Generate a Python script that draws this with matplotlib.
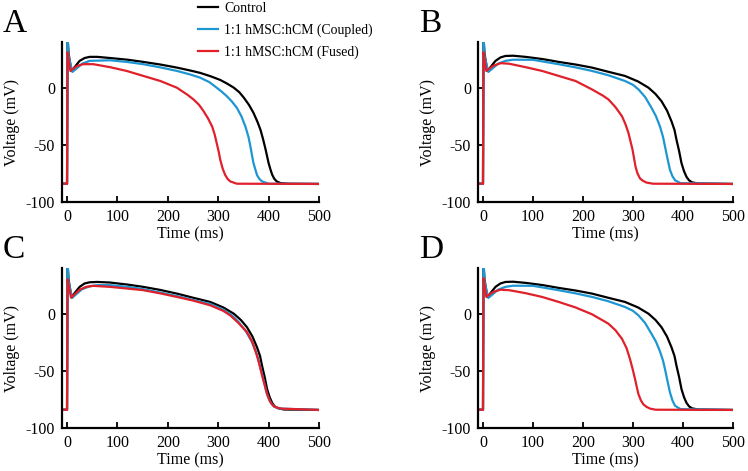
import matplotlib
matplotlib.use("Agg")
from matplotlib import pyplot as plt

plt.rcParams['font.family'] = ['Liberation Serif', 'DejaVu Serif']
plt.rcParams['axes.unicode_minus'] = False

labels = ['Control', '1:1 hMSC:hCM (Coupled)', '1:1 hMSC:hCM (Fused)']
colors = ['#000000', '#1e96d2', '#e0202a']
panels = ['A', 'B', 'C', 'D']

# action potentials: (time ms, voltage mV)
# panel A
a_ctrl_t = [-10, 0, 1, 3, 8.6, 15, 25, 35, 45, 60, 85, 120, 151, 185, 218, 245, 264, 285, 304, 318,
            331, 342, 351, 361, 370, 378, 384, 389, 394, 400, 404, 407, 411, 416, 424, 440, 500]
a_ctrl_v = [-84, -84, 45, 30, 14.7, 18, 23.5, 26, 27, 27, 26, 24.5, 22.6, 20.3, 17.6, 15, 13, 10, 6.8, 3.5,
            0, -4, -8.8, -15, -22, -30, -37, -45, -54, -66, -72, -76, -79.5, -82, -83.5, -84, -84.2]
a_coup_t = [-10, 0, 1, 3, 10.6, 18, 30, 45, 85, 120, 151, 185, 218, 245, 264, 282, 297, 307, 317, 327,
            337, 346, 354, 360, 364, 367, 370, 374, 377, 382, 387, 400, 500]
a_coup_v = [-84, -84, 45, 28, 13.8, 16.5, 21, 23.5, 24, 22.5, 20.6, 17.8, 14.7, 11.5, 8.8, 5, 0, -3.5, -7.4, -12,
            -17.6, -25, -34, -43, -51.5, -59, -66, -72, -76.5, -80, -82, -84, -84.2]
a_fuse_t = [-10, 0, 1, 3, 6.6, 12, 20, 32, 52, 85, 118, 150, 185, 218, 240, 251, 262, 271, 280, 288,
            293, 297, 301, 304, 309, 314, 319, 324, 337, 500]
a_fuse_v = [-84, -84, 31, 25, 14.7, 16.5, 19, 20.6, 20.6, 18, 14.7, 10.5, 5.9, 0, -6.5, -10.3, -15, -20.6, -27, -34,
            -41, -48.5, -56, -63, -71, -76.5, -80, -82, -84, -84.2]

# panel B
b_ctrl_t = [-10, 0, 1, 3, 8.6, 15, 25, 35, 45, 60, 85, 120, 151, 185, 218, 250, 284, 310, 331,
            345, 357, 368, 377, 383, 387, 392, 397, 402, 407, 412, 418, 430, 500]
b_ctrl_v = [-84, -84, 45, 30, 14.7, 18, 23.5, 26.5, 27.8, 28, 27, 25, 22.6, 20.3, 17.6, 14, 10.3, 5.5, 0,
            -5.5, -11.8, -20, -29.4, -37, -45.6, -55, -66, -73, -78, -81, -82.8, -83.8, -84.2]
b_coup_t = [-10, 0, 1, 3, 10.6, 18, 30, 45, 60, 100, 151, 185, 218, 250, 284, 300, 311, 324,
            337, 346, 354, 360, 364, 369, 374, 379, 384, 395, 500]
b_coup_v = [-84, -84, 45, 28, 13.8, 16.5, 21, 23.5, 24.5, 24.4, 20.6, 17.8, 14.7, 11, 5.9, 2.5, -1.5, -8,
            -17.6, -25, -34, -43, -51.5, -62, -72, -77.5, -81, -83.5, -84.2]
b_fuse_t = [-10, 0, 1, 3, 6.6, 12, 20, 35, 52, 85, 118, 150, 185, 218, 240, 251, 265, 278, 285, 291,
            295, 299, 305, 309, 314, 320, 327, 340, 500]
b_fuse_v = [-84, -84, 31, 25, 14.7, 16.5, 19, 21.5, 21, 18, 14.7, 10.5, 5.9, -1.5, -7, -10.3, -17, -25, -32, -39.7,
            -47, -54, -69, -75, -79.4, -81.5, -83, -84, -84.2]

# panel C
c_ctrl_t = [-10, 0, 1, 3, 8.6, 15, 25, 35, 45, 60, 85, 120, 151, 185, 218, 250, 284, 310, 331,
            345, 357, 368, 377, 383, 387, 392, 397, 402, 407, 412, 417, 430, 500]
c_ctrl_v = [-84, -84, 45, 30, 14.7, 18, 23.5, 26.5, 27.5, 27.8, 27.3, 25.5, 23.5, 20.8, 17.6, 14, 10.3, 5.5, 0,
            -5.5, -11.8, -20, -29.4, -37, -45.6, -55, -66, -73, -78, -81, -82.4, -83.8, -84.2]
c_coup_t = [-10, 0, 1, 3, 10, 18, 30, 45, 60, 85, 120, 151, 185, 218, 250, 284, 310, 326, 340,
            355, 366, 375, 381, 386, 391, 396, 401, 406, 412, 420, 500]
c_coup_v = [-84, -84, 45, 28, 13.8, 17, 21.5, 24, 25, 25, 23.5, 21.5, 18.5, 15.5, 12, 8.5, 3.5, -1, -7,
            -15.5, -24, -33.5, -42, -51, -60, -69, -75, -79, -81.5, -83, -84.2]
c_fuse_t = [-10, 0, 1, 3, 8, 15, 25, 38, 52, 85, 120, 151, 185, 218, 250, 284, 310, 324, 340,
            357, 368, 377, 382, 387, 392, 397, 403, 410, 423, 500]
c_fuse_v = [-84, -84, 30, 25, 14, 17, 21, 23.5, 24.4, 23.5, 22, 20.6, 17.8, 14.7, 11.5, 7.4, 2.5, -1.5, -8,
            -16, -25, -36.8, -45, -54, -62, -70.6, -77, -81, -83, -84.2]

# panel D
d_ctrl_t = b_ctrl_t
d_ctrl_v = b_ctrl_v
d_coup_t = [-10, 0, 1, 3, 10.6, 18, 30, 45, 60, 100, 151, 185, 218, 250, 284, 300, 311, 324,
            337, 346, 354, 360, 364, 369, 374, 379, 384, 395, 500]
d_coup_v = [-84, -84, 45, 28, 13.8, 16.5, 21, 23.5, 24.5, 24.4, 20.6, 17.8, 14.7, 11, 5.9, 2.5, -1.5, -8,
            -17.6, -24.5, -33, -41, -48.5, -59, -69, -76, -80.5, -83.5, -84.2]
d_fuse_t = [-10, 0, 1, 3, 6.6, 12, 20, 35, 52, 85, 118, 150, 185, 218, 240, 251, 265, 278, 287, 294,
            299, 304, 308, 311, 316, 321, 327, 334, 345, 500]
d_fuse_v = [-84, -84, 31, 25, 14.7, 16.5, 19, 21, 20.6, 18, 14.7, 10.5, 5.5, -0.5, -6, -8.8, -14.5, -22, -30, -39.7,
            -48, -57, -65, -70.6, -76, -79.4, -81.5, -83, -84, -84.2]

traces = {
    'A': [(a_ctrl_t, a_ctrl_v), (a_coup_t, a_coup_v), (a_fuse_t, a_fuse_v)],
    'B': [(b_ctrl_t, b_ctrl_v), (b_coup_t, b_coup_v), (b_fuse_t, b_fuse_v)],
    'C': [(c_ctrl_t, c_ctrl_v), (c_coup_t, c_coup_v), (c_fuse_t, c_fuse_v)],
    'D': [(d_ctrl_t, d_ctrl_v), (d_coup_t, d_coup_v), (d_fuse_t, d_fuse_v)],
}

# axes boxes in pixels (left, top, right, bottom)
W, H = 748, 471
boxes = {
    'A': (62, 42, 319, 202),
    'B': (478, 42, 733, 202),
    'C': (62, 268, 319, 428),
    'D': (478, 268, 733, 428),
}

fig = plt.figure(figsize=(7.48, 4.71), dpi=100)

for p in panels:
    l, t, r, b = boxes[p]
    ax = fig.add_axes([l / W, 1 - b / H, (r - l) / W, (b - t) / H])
    for (tt, vv), c, lab in zip(traces[p], colors, labels):
        ax.plot(tt, vv, color=c, lw=1.6, label=lab, solid_joinstyle='round')
    ax.set_xlim(-10, 500)
    ax.set_ylim(-100, 40)
    ax.set_xticks([0, 100, 200, 300, 400, 500])
    ax.set_yticks([-100, -50, 0])
    for s in ['top', 'right']:
        ax.spines[s].set_visible(False)
    for s in ['left', 'bottom']:
        ax.spines[s].set_linewidth(1.6)
    ax.tick_params(direction='in', length=4, width=1.3, labelsize=11.5, pad=5)
    ax.set_xlabel('Time (ms)', fontsize=11.5)
    ax.set_ylabel('Voltage (mV)', fontsize=11.5)
    ax.xaxis.set_label_coords(0.5, -0.15)
    ax.yaxis.set_label_coords(-0.165, 0.5)
    fig.text((l - 59) / W, 1 - (t - 10) / H, p, fontsize=24, ha='left', va='baseline')
    if p == 'A':
        ax.legend(loc='upper left', bbox_to_anchor=(198 / W, 0.996), bbox_transform=fig.transFigure,
                  frameon=False, fontsize=9.9, handlelength=1.45, handletextpad=0.44,
                  labelspacing=0.62, borderpad=0, borderaxespad=0)

fig.savefig('out.png', dpi=100)
